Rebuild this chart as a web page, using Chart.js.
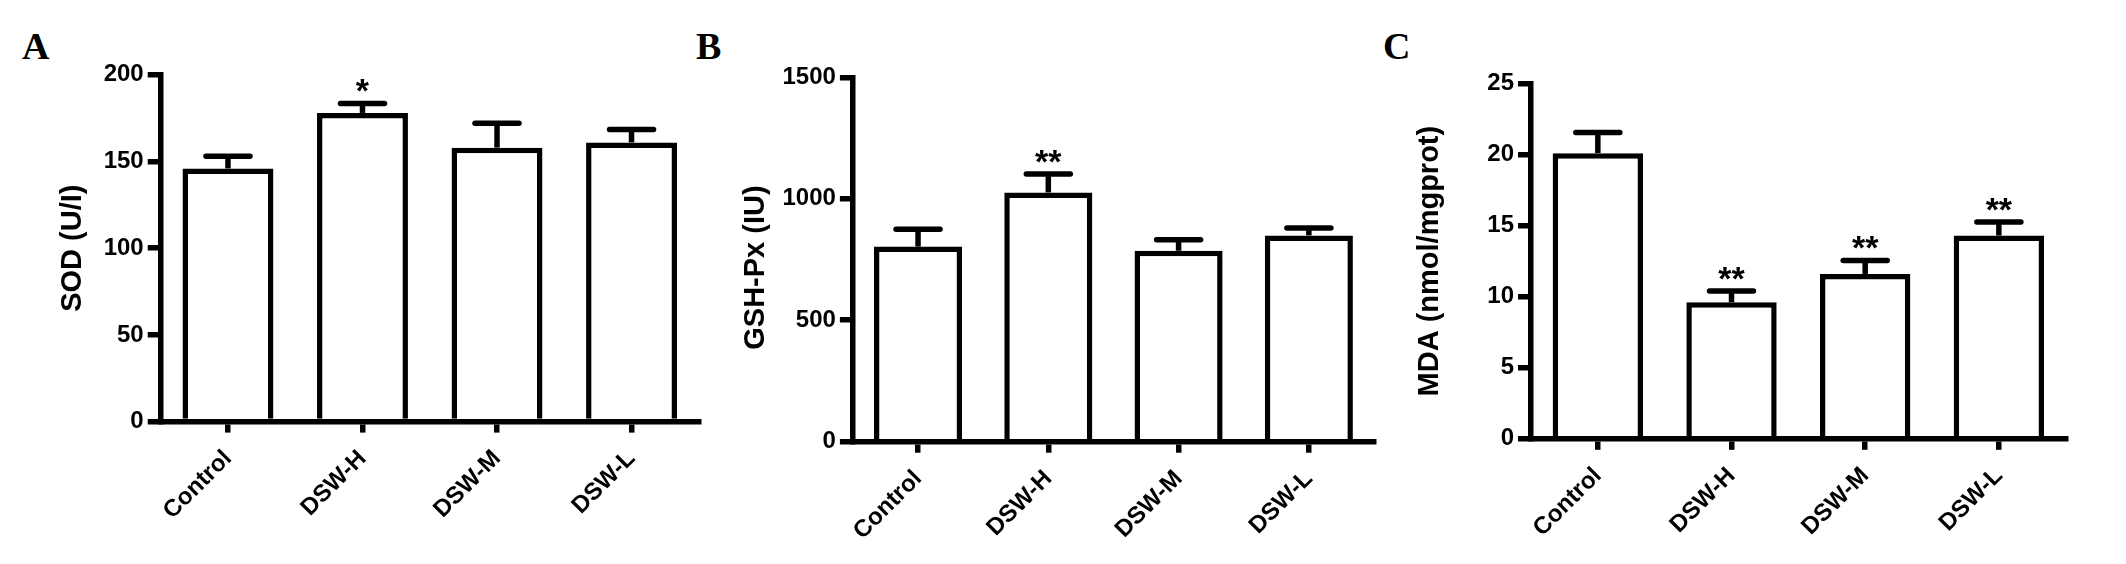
<!DOCTYPE html>
<html lang="en">
<head>
<meta charset="UTF-8">
<title>SOD, GSH-Px and MDA levels</title>
<script src="https://cdn.jsdelivr.net/npm/chart.js"></script>
<style>
  body { margin: 0; background: #fff; width: 2126px; height: 564px; position: relative; overflow: hidden; }
  canvas { position: absolute; top: 0; }
  .tag { position: absolute; top: 27px; font: bold 38px "Liberation Serif", "Times New Roman", serif; line-height: 38px; color: #000; }
</style>
</head>
<body>
<div class="tag" style="left:22px">A</div>
<div class="tag" style="left:696px">B</div>
<div class="tag" style="left:1383px">C</div>
<canvas id="chartA" width="720" height="564" style="left:0px;width:720px;height:564px"></canvas>
<canvas id="chartB" width="700" height="564" style="left:700px;width:700px;height:564px"></canvas>
<canvas id="chartC" width="726" height="564" style="left:1400px;width:726px;height:564px"></canvas>
<script>
// data (mean and upper error / SEM)
const groups = ['Control', 'DSW-H', 'DSW-M', 'DSW-L'];

const sodMean = [146, 178, 158, 161];
const sodSem = [7, 5.5, 14, 7.5];
const sodStars = ['', '*', '', ''];
const sodTicks = [0, 50, 100, 150, 200];

const gshMean = [803, 1026, 786, 849];
const gshSem = [72, 76, 45, 31];
const gshStars = ['', '**', '', ''];
const gshTicks = [0, 500, 1000, 1500];

const mdaMean = [20.1, 9.6, 11.6, 14.3];
const mdaSem = [1.45, 0.8, 0.95, 0.95];
const mdaStars = ['', '**', '**', '**'];
const mdaTicks = [0, 5, 10, 15, 20, 25];

const FONT = '"Liberation Sans", Arial, Helvetica, sans-serif';
const LW = 5.5;

// draws the upper error bar + significance stars over each bar
const errorBars = (sems, stars) => ({
    id: 'errorBars',
    afterDatasetsDraw(chart) {
        const ctx = chart.ctx;
        const yScale = chart.scales.y;
        const means = chart.data.datasets[0].data;
        const meta = chart.getDatasetMeta(0);
        ctx.save();
        ctx.strokeStyle = '#000';
        ctx.fillStyle = '#000';
        ctx.lineWidth = LW;
        meta.data.forEach((bar, i) => {
            const yMean = yScale.getPixelForValue(means[i]);
            const yTop = yScale.getPixelForValue(means[i] + sems[i]);
            ctx.lineCap = 'butt';
            ctx.beginPath();
            ctx.moveTo(bar.x, yMean);
            ctx.lineTo(bar.x, yTop);
            ctx.stroke();
            ctx.lineCap = 'round';
            ctx.beginPath();
            ctx.moveTo(bar.x - 22, yTop);
            ctx.lineTo(bar.x + 22, yTop);
            ctx.stroke();
            if (stars[i]) {
                ctx.font = 'bold 34px ' + FONT;
                ctx.textAlign = 'center';
                ctx.textBaseline = 'alphabetic';
                ctx.fillText(stars[i], bar.x, yTop - 1);
            }
        });
        ctx.restore();
    }
});

function makePanel(id, yTitle, means, sems, stars, ticks, box) {
    const step = ticks[1] - ticks[0];
    new Chart(document.getElementById(id), {
        type: 'bar',
        data: {
            labels: groups,
            datasets: [{
                data: means,
                backgroundColor: '#fff',
                borderColor: '#000',
                borderWidth: LW,
                barPercentage: 0.676,
                categoryPercentage: 1
            }]
        },
        options: {
            responsive: false,
            animation: false,
            devicePixelRatio: 1,
            layout: { padding: { left: 0, right: box.right, top: box.top, bottom: 0 } },
            plugins: { legend: { display: false }, tooltip: { enabled: false } },
            scales: {
                x: {
                    offset: true,
                    border: { display: true, color: '#000', width: LW },
                    grid: { display: true, offset: false, drawOnChartArea: false, color: '#000', lineWidth: LW, tickLength: 11 },
                    ticks: {
                        color: '#000',
                        font: { family: FONT, size: 24, weight: 'bold' },
                        minRotation: 45,
                        maxRotation: 45,
                        padding: 12
                    },
                    afterFit: (s) => { s.height = 564 - box.bottom; }
                },
                y: {
                    min: ticks[0],
                    max: ticks[ticks.length - 1],
                    border: { display: true, color: '#000', width: LW },
                    grid: { display: true, drawOnChartArea: false, color: '#000', lineWidth: LW, tickLength: 13 },
                    ticks: {
                        stepSize: step,
                        color: '#000',
                        padding: 4,
                        font: { family: FONT, size: 24, weight: 'bold' },
                        callback: (v) => String(v)
                    },
                    title: {
                        display: true,
                        text: yTitle,
                        color: '#000',
                        font: { family: FONT, size: 29, weight: 'bold' },
                        padding: { top: box.titlePad, bottom: 0 }
                    },
                    afterFit: (s) => { s.width = box.left; }
                }
            }
        },
        plugins: [errorBars(sems, stars)]
    });
}

makePanel('chartA', 'SOD (U/I)', sodMean, sodSem, sodStars, sodTicks,
    { left: 160.7, right: 21.2, top: 74.8, bottom: 421.6, titlePad: 55.1 });
// trailing spaces nudge the rotated title down, as in the original
makePanel('chartB', 'GSH-Px (IU)  ', gshMean, gshSem, gshStars, gshTicks,
    { left: 152.9, right: 26, top: 77.3, bottom: 441.7, titlePad: 38.8 });
makePanel('chartC', 'MDA (nmol/mgprot)', mdaMean, mdaSem, mdaStars, mdaTicks,
    { left: 131, right: 60.3, top: 83.5, bottom: 438.8, titlePad: 12.6 });
</script>
</body>
</html>
